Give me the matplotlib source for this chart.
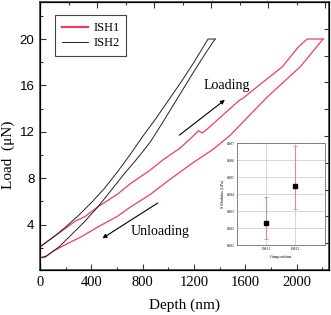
import matplotlib
matplotlib.use("Agg")
import matplotlib.pyplot as plt
import numpy as np
from matplotlib.ticker import MultipleLocator, FixedLocator

SERIF = "Liberation Serif"
SANS = "Liberation Sans"
RED = "#f23c5c"
BLACK = "#222222"

# ISH1 load-depth curves (depth nm, load uN)
ish1_a_depth = [0, 100, 200, 280, 312, 350, 452, 600, 700, 858, 960, 1092, 1200, 1235, 1264, 1300,
                1400, 1552, 1583, 1638, 1888, 2013, 2082, 2207]
ish1_a_load = [2.1, 2.9, 3.7, 4.35, 4.5, 4.7, 5.55, 6.6, 7.5, 8.7, 9.6, 10.6, 11.7, 12.1, 11.9, 12.2,
               13.2, 14.7, 14.9, 15.4, 17.6, 19.3, 20.0, 20.0]
ish1_b_depth = [0, 40, 100, 200, 312, 450, 600, 702, 858, 1000, 1200, 1350, 1482, 1771, 2028, 2207]
ish1_b_load = [1.15, 1.2, 1.7, 2.3, 2.9, 3.8, 4.7, 5.5, 6.6, 7.8, 9.4, 10.5, 11.7, 15.0, 17.6, 20.0]

# ISH2 load-depth curves
ish2_a_depth = [0, 100, 200, 300, 400, 500, 600, 700, 800, 900, 1000, 1100, 1200, 1310, 1365]
ish2_a_load = [2.1, 2.9, 3.8, 4.8, 5.9, 7.1, 8.5, 10.0, 11.6, 13.1, 14.7, 16.3, 18.0, 20.0, 20.0]
ish2_b_depth = [0, 50, 150, 250, 350, 452, 550, 650, 750, 858, 950, 1050, 1194, 1280, 1340, 1365]
ish2_b_load = [1.15, 1.3, 2.1, 3.2, 4.3, 5.55, 6.9, 8.3, 9.6, 11.1, 12.7, 14.5, 17.1, 18.6, 19.6, 20.0]

# inset: modulus by composition
inset_labels = ["ISH 1", "ISH 2"]
inset_mean = [0.0023, 0.0045]
inset_low = [0.00133, 0.00313]
inset_high = [0.0038, 0.0068]

fig = plt.figure(figsize=(3.31, 3.15), dpi=100)
ax = fig.add_axes([0.121, 0.143, 0.873, 0.851])

ax.plot(ish1_a_depth, ish1_a_load, color=RED, lw=0.9, label="ISH1")
ax.plot(ish1_b_depth, ish1_b_load, color=RED, lw=0.9)
ax.plot(ish2_a_depth, ish2_a_load, color=BLACK, lw=0.7, label="ISH2")
ax.plot(ish2_b_depth, ish2_b_load, color=BLACK, lw=0.7)

ax.set_xlim(0, 2253)
ax.set_ylim(0.1, 23.2)
ax.xaxis.set_major_locator(FixedLocator([0, 400, 800, 1200, 1600, 2000]))
ax.xaxis.set_minor_locator(MultipleLocator(200))
ax.yaxis.set_major_locator(FixedLocator([4, 8, 12, 16, 20]))
ax.yaxis.set_minor_locator(FixedLocator([2, 6, 10, 14, 18, 22]))
ax.tick_params(which="both", direction="in", top=False, right=False, width=0.8, color="#333333")
ax.tick_params(which="major", length=4)
ax.tick_params(which="minor", length=2.5)
ax.tick_params(axis="x", pad=4)
ax.tick_params(axis="y", pad=4)
for lab in ax.get_xticklabels():
    lab.set_fontfamily(SERIF)
    lab.set_fontsize(10.5)
for lab in ax.get_yticklabels():
    lab.set_fontfamily(SANS)
    lab.set_fontsize(9.5)
for s in ax.spines.values():
    s.set_linewidth(1.1)
    s.set_color("#333333")

ax.set_xlabel("Depth (nm)", fontfamily=SERIF, fontsize=11)
ax.set_ylabel("Load  (\u03bcN)", fontfamily=SERIF, fontsize=11)
ax.xaxis.set_label_coords(0.5, -0.108)
ax.yaxis.set_label_coords(-0.085, 0.43)

# opposite axes carry their own tick spacing
axt = ax.twiny()
axt.set_xlim(0, 5.07)
axt.xaxis.set_major_locator(FixedLocator([1, 2, 3, 4, 5]))
axt.xaxis.set_minor_locator(FixedLocator([0.5, 1.5, 2.5, 3.5, 4.5]))
axt.tick_params(which="both", direction="in", labeltop=False, width=0.8, color="#333333")
axt.tick_params(which="major", length=4)
axt.tick_params(which="minor", length=2.5)
axr = ax.twinx()
axr.set_ylim(0, 1)
axr.yaxis.set_major_locator(FixedLocator(np.arange(0.1, 1.0, 0.1)))
axr.tick_params(which="both", direction="in", labelright=False, length=3.5, width=0.8, color="#333333")

leg = ax.legend(loc="upper left", bbox_to_anchor=(0.052, 0.951), borderaxespad=0,
                prop={"family": SERIF, "size": 9}, fancybox=False, edgecolor="#444444",
                framealpha=1, handlelength=2.1, handletextpad=0.4, borderpad=0.55,
                labelspacing=0.25)
leg.get_frame().set_linewidth(0.8)
leg.get_lines()[0].set_linewidth(1.6)

# annotations
ax.annotate("", xy=(1458, 14.9), xytext=(1069, 11.57),
            arrowprops=dict(arrowstyle="-|>", color="black", lw=0.8, mutation_scale=6))
ax.annotate("", xy=(468, 2.7), xytext=(936, 6.0),
            arrowprops=dict(arrowstyle="-|>", color="black", lw=0.8, mutation_scale=6))
ax.text(1459, 16.0, "Loading", fontfamily=SERIF, fontsize=10, ha="center", va="center")
ax.text(936, 3.4, "Unloading", fontfamily=SERIF, fontsize=10, ha="center", va="center")

# inset
ins = fig.add_axes([0.716, 0.222, 0.266, 0.324])
ins.set_facecolor("white")
xpos = np.arange(1, len(inset_labels) + 1)
mean = np.array(inset_mean)
yerr = [mean - np.array(inset_low), np.array(inset_high) - mean]
ins.errorbar(xpos, mean, yerr=yerr, fmt="s", color="black", ms=2.6, ecolor="#d88c9a",
             elinewidth=0.8, capsize=1.5, capthick=0.6, zorder=3)
ins.set_xlim(0.02, 3.02)
ins.set_ylim(0.001, 0.007)
ins.set_xticks(xpos)
ins.set_xticklabels(inset_labels, fontfamily=SERIF, fontsize=2.6)
ins.set_yticks(np.arange(0.001, 0.0071, 0.001))
ins.set_yticklabels([f"{v:.3f}" for v in np.arange(0.001, 0.0071, 0.001)],
                    fontfamily=SERIF, fontsize=2.6)
ins.tick_params(which="both", length=0, pad=1.5)
ins.grid(True, color="#c9d2d8", lw=0.6)
ins.set_axisbelow(True)
ins.set_xlabel("Composition", fontfamily=SERIF, fontsize=3.2, labelpad=3)
ins.set_ylabel("S Modulus (GPa)", fontfamily=SERIF, fontsize=3.0, labelpad=2)
for s in ins.spines.values():
    s.set_linestyle((0, (1.2, 1.2)))
    s.set_linewidth(0.7)
    s.set_color("#777777")

fig.savefig("out.png", dpi=100)
